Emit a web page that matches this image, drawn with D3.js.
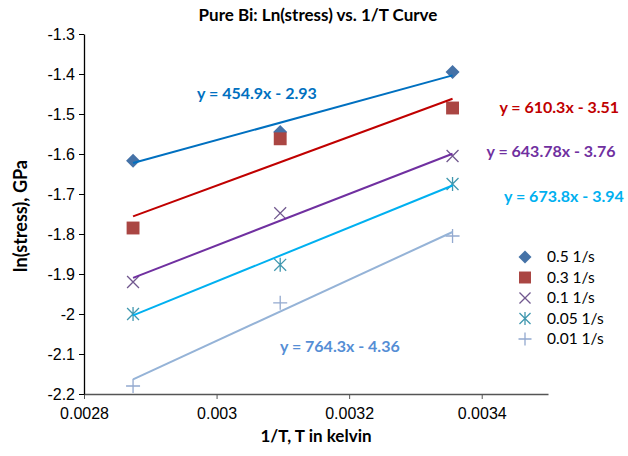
<!DOCTYPE html>
<html>
<head>
<meta charset="utf-8">
<script src="https://cdn.jsdelivr.net/npm/d3@7"></script>
<style>
  body { margin: 0; background: #fff; }
  svg { display: block; font-family: Lato, "Open Sans", sans-serif; }
  .c-tick { font-size: 16px; fill: #000; }
  .c-legend { font-size: 15.5px; fill: #000; }
  .c-axis { font-size: 17px; font-weight: bold; fill: #000; }
</style>
</head>
<body>
<svg class="js-render-chart" width="628" height="456"></svg>
<script>
"use strict";

//data

const rates = ["0.5 1/s", "0.3 1/s", "0.1 1/s", "0.05 1/s", "0.01 1/s"];
const invT = [0.002874, 0.003096, 0.003356];
const lnStress05 = [-1.617, -1.545, -1.395];
const lnStress03 = [-1.785, -1.562, -1.485];
const lnStress01 = [-1.920, -1.748, -1.605];
const lnStress005 = [-2.000, -1.877, -1.675];
const lnStress001 = [-2.180, -1.972, -1.805];
const slopes = [454.9, 610.3, 643.78, 673.8, 764.3];
const intercepts = [-2.93, -3.51, -3.76, -3.94, -4.36];
const xTicks = [0.0028, 0.003, 0.0032, 0.0034];
const yTicks = [-2.2, -2.1, -2, -1.9, -1.8, -1.7, -1.6, -1.5, -1.4, -1.3];

//layout and style

const series = [lnStress05, lnStress03, lnStress01, lnStress005, lnStress001];
const markerColors = ["#4572A7", "#AA4643", "#71588F", "#4198AF", "#93A9CF"];
const lineColors = ["#0070C0", "#C00000", "#7030A0", "#00B0F0", "#95B3D7"];
const labelColors = ["#0070C0", "#C00000", "#7030A0", "#00B0F0", "#558ED5"];
const labelAt = [[0.003061, -1.4475], [0.003517, -1.4825], [0.0035045, -1.5925], [0.003524, -1.705], [0.003186, -2.08]];

const m = { t: 34, r: 80, b: 62, l: 84 };
const w = 628 - m.l - m.r;
const h = 456 - m.t - m.b;

//marker shapes

const shape = (draw) => ({ draw });

const shapes = [
  shape((c, r) => { c.moveTo(0, -r); c.lineTo(r, 0); c.lineTo(0, r); c.lineTo(-r, 0); c.closePath(); }),
  shape((c, r) => { const s = r * 0.92; c.rect(-s, -s, s * 2, s * 2); }),
  shape((c, r) => { const s = r * 0.85; c.moveTo(-s, -s); c.lineTo(s, s); c.moveTo(s, -s); c.lineTo(-s, s); }),
  shape((c, r) => { const s = r * 0.85; c.moveTo(-s, -s); c.lineTo(s, s); c.moveTo(s, -s); c.lineTo(-s, s); c.moveTo(0, -r); c.lineTo(0, r); }),
  shape((c, r) => { c.moveTo(-r, 0); c.lineTo(r, 0); c.moveTo(0, -r); c.lineTo(0, r); })
];
const filled = [true, true, false, false, false];

const marker = (i, r) => {
  const p = d3.path();
  shapes[i].draw(p, r);
  return p.toString();
};

//scales

const x = d3.scaleLinear().domain([0.0028, 0.0035]).range([0, w]);
const y = d3.scaleLinear().domain([-2.2, -1.3]).range([h, 0]);

const xa = d3.axisBottom(x).tickValues(xTicks).tickSize(5).tickSizeOuter(0)
  .tickFormat(d => String(+d.toFixed(4)));
const ya = d3.axisLeft(y).tickValues(yTicks).tickSize(5).tickSizeOuter(0)
  .tickFormat(d => String(+d.toFixed(1)));

//chart

const svg = d3.select(".js-render-chart");

const chart = svg.append("g")
  .attr("transform", `translate(${m.l}, ${m.t})`);

chart.append("g")
  .attr("transform", `translate(0, ${h})`)
  .call(xa)
  .call(g => g.select(".domain").attr("stroke", "#555").attr("stroke-width", 1.3))
  .call(g => g.selectAll(".tick line").attr("stroke", "#555"))
  .call(g => g.selectAll("text").attr("class", "c-tick").attr("dy", "1.05em").attr("font-family", null).attr("font-size", null));

chart.append("g")
  .call(ya)
  .call(g => g.select(".domain").attr("stroke", "#000").attr("stroke-width", 1.3))
  .call(g => g.selectAll(".tick line").attr("stroke", "#000"))
  .call(g => g.selectAll("text").attr("class", "c-tick").attr("x", -9).attr("font-family", null).attr("font-size", null));

//markers

series.forEach((vals, i) => {
  chart.append("g")
    .selectAll("path")
    .data(vals)
    .join("path")
    .attr("transform", (d, j) => `translate(${x(invT[j])}, ${y(d)})`)
    .attr("d", marker(i, 7))
    .attr("fill", filled[i] ? markerColors[i] : "none")
    .attr("stroke", markerColors[i])
    .attr("stroke-width", filled[i] ? 0 : 1.3);
});

//trendlines

const x0 = d3.min(invT);
const x1 = d3.max(invT);

chart.append("g")
  .selectAll("line")
  .data(slopes)
  .join("line")
  .attr("x1", x(x0))
  .attr("x2", x(x1))
  .attr("y1", (s, i) => y(s * x0 + intercepts[i]))
  .attr("y2", (s, i) => y(s * x1 + intercepts[i]))
  .attr("stroke", (s, i) => lineColors[i])
  .attr("stroke-width", 2);

//equation labels

chart.append("g")
  .selectAll("text")
  .data(slopes)
  .join("text")
  .attr("x", (s, i) => x(labelAt[i][0]))
  .attr("y", (s, i) => y(labelAt[i][1]))
  .attr("text-anchor", "middle")
  .attr("dy", "0.35em")
  .attr("font-size", 16)
  .attr("font-weight", "bold")
  .attr("fill", (s, i) => labelColors[i])
  .text((s, i) => `y = ${s}x - ${Math.abs(intercepts[i])}`);

//legend

const legend = svg.append("g")
  .attr("transform", "translate(525, 257)");

const item = legend.selectAll("g")
  .data(rates)
  .join("g")
  .attr("transform", (d, i) => `translate(0, ${i * 20.5})`);

item.append("path")
  .attr("d", (d, i) => marker(i, 6.5))
  .attr("fill", (d, i) => filled[i] ? markerColors[i] : "none")
  .attr("stroke", (d, i) => markerColors[i])
  .attr("stroke-width", (d, i) => filled[i] ? 0 : 1.3);

item.append("text")
  .attr("x", 22)
  .attr("dy", "0.35em")
  .attr("class", "c-legend")
  .text(d => d);

//titles

svg.append("text")
  .attr("x", 318)
  .attr("y", 21)
  .attr("text-anchor", "middle")
  .attr("class", "c-axis")
  .text("Pure Bi: Ln(stress) vs. 1/T Curve");

svg.append("text")
  .attr("x", m.l + w / 2)
  .attr("y", 442)
  .attr("text-anchor", "middle")
  .attr("class", "c-axis")
  .text("1/T, T in kelvin");

svg.append("text")
  .attr("transform", `translate(27, ${m.t + h / 2 + 2}) rotate(-90)`)
  .attr("text-anchor", "middle")
  .attr("class", "c-axis")
  .style("font-size", "18px")
  .text("ln(stress), GPa");
</script>
</body>
</html>
